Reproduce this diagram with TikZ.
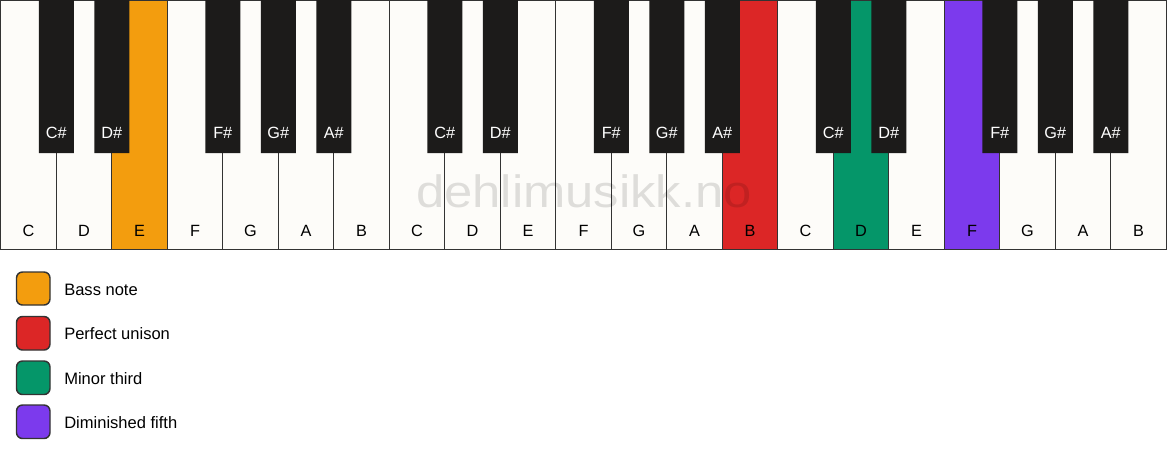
\documentclass[tikz,border=0pt]{standalone}
\usepackage{fontspec}
\setmainfont{Liberation Sans}

\definecolor{keywhite}{RGB}{253,252,249}
\definecolor{keyblack}{RGB}{28,27,26}
\definecolor{keyline}{RGB}{51,51,51}
\definecolor{bassnote}{RGB}{243,157,14}
\definecolor{unison}{RGB}{220,38,38}
\definecolor{minorthird}{RGB}{5,150,105}
\definecolor{dimfifth}{RGB}{124,58,237}

\tikzset{
	whitekey/.style={fill=keywhite, draw=keyline, line width=1.1pt},
	blackkey/.style={fill=keyblack},
	wlabel/.style={font=\fontsize{12.2}{14}\selectfont, text=black},
	blabel/.style={font=\fontsize{12.2}{14}\selectfont, text=white},
	legendbox/.style={draw=keyline, line width=1.1pt, rounded corners=4.5pt},
	legendtext/.style={anchor=west, inner sep=0pt, font=\fontsize{12.4}{14}\selectfont}
}

\begin{document}
\begin{tikzpicture}[x=0.75pt, y=-0.75pt]
\useasboundingbox (0,0) rectangle (1167,461);

% white keys
\draw[whitekey] (0.75,0) rectangle (56.25,249.5)
	(56.25,0) rectangle (111.75,249.5)
	(167.25,0) rectangle (222.75,249.5)
	(222.75,0) rectangle (278.25,249.5)
	(278.25,0) rectangle (333.75,249.5)
	(333.75,0) rectangle (389.25,249.5)
	(389.25,0) rectangle (444.75,249.5)
	(444.75,0) rectangle (500.25,249.5)
	(500.25,0) rectangle (555.75,249.5)
	(555.75,0) rectangle (611.25,249.5)
	(611.25,0) rectangle (666.75,249.5)
	(666.75,0) rectangle (722.25,249.5)
	(777.75,0) rectangle (833.25,249.5)
	(888.75,0) rectangle (944.25,249.5)
	(999.75,0) rectangle (1055.25,249.5)
	(1055.25,0) rectangle (1110.75,249.5)
	(1110.75,0) rectangle (1166.25,249.5);

% coloured keys
\draw[whitekey, fill=bassnote] (111.75,0) rectangle (167.25,249.5);
\draw[whitekey, fill=unison] (722.25,0) rectangle (777.75,249.5);
\draw[whitekey, fill=minorthird] (833.25,0) rectangle (888.75,249.5);
\draw[whitekey, fill=dimfifth] (944.25,0) rectangle (999.75,249.5);

% watermark
\node[font=\fontsize{34}{40}\selectfont, text=black, opacity=0.12, xscale=1.12] (mark) at (584,191.5) {dehlimusikk.no};

% black keys
\fill[blackkey] (38.75,0) rectangle (73.75,153)
	(94.25,0) rectangle (129.25,153)
	(205.25,0) rectangle (240.25,153)
	(260.75,0) rectangle (295.75,153)
	(316.25,0) rectangle (351.25,153)
	(427.25,0) rectangle (462.25,153)
	(482.75,0) rectangle (517.75,153)
	(593.75,0) rectangle (628.75,153)
	(649.25,0) rectangle (684.25,153)
	(704.75,0) rectangle (739.75,153)
	(815.75,0) rectangle (850.75,153)
	(871.25,0) rectangle (906.25,153)
	(982.25,0) rectangle (1017.25,153)
	(1037.75,0) rectangle (1072.75,153)
	(1093.25,0) rectangle (1128.25,153);

% labels white keys
\node[wlabel] (wC1) at (28.5,230.5) {C};
\node[wlabel] (wD1) at (84,230.5) {D};
\node[wlabel] (wE1) at (139.5,230.5) {E};
\node[wlabel] (wF1) at (195,230.5) {F};
\node[wlabel] (wG1) at (250.5,230.5) {G};
\node[wlabel] (wA1) at (306,230.5) {A};
\node[wlabel] (wB1) at (361.5,230.5) {B};
\node[wlabel] (wC2) at (417,230.5) {C};
\node[wlabel] (wD2) at (472.5,230.5) {D};
\node[wlabel] (wE2) at (528,230.5) {E};
\node[wlabel] (wF2) at (583.5,230.5) {F};
\node[wlabel] (wG2) at (639,230.5) {G};
\node[wlabel] (wA2) at (694.5,230.5) {A};
\node[wlabel] (wB2) at (750,230.5) {B};
\node[wlabel] (wC3) at (805.5,230.5) {C};
\node[wlabel] (wD3) at (861,230.5) {D};
\node[wlabel] (wE3) at (916.5,230.5) {E};
\node[wlabel] (wF3) at (972,230.5) {F};
\node[wlabel] (wG3) at (1027.5,230.5) {G};
\node[wlabel] (wA3) at (1083,230.5) {A};
\node[wlabel] (wB3) at (1138.5,230.5) {B};

% labels black keys
\node[blabel] (bCs1) at (56.25,133) {C\#};
\node[blabel] (bDs1) at (111.75,133) {D\#};
\node[blabel] (bFs1) at (222.75,133) {F\#};
\node[blabel] (bGs1) at (278.25,133) {G\#};
\node[blabel] (bAs1) at (333.75,133) {A\#};
\node[blabel] (bCs2) at (444.75,133) {C\#};
\node[blabel] (bDs2) at (500.25,133) {D\#};
\node[blabel] (bFs2) at (611.25,133) {F\#};
\node[blabel] (bGs2) at (666.75,133) {G\#};
\node[blabel] (bAs2) at (722.25,133) {A\#};
\node[blabel] (bCs3) at (833.25,133) {C\#};
\node[blabel] (bDs3) at (888.75,133) {D\#};
\node[blabel] (bFs3) at (999.75,133) {F\#};
\node[blabel] (bGs3) at (1055.25,133) {G\#};
\node[blabel] (bAs3) at (1110.75,133) {A\#};

% legend
\draw[legendbox, fill=bassnote] (16.5,272) rectangle (50,305);
\draw[legendbox, fill=unison] (16.5,316.5) rectangle (50,350);
\draw[legendbox, fill=minorthird] (16.5,361) rectangle (50,394.5);
\draw[legendbox, fill=dimfifth] (16.5,405) rectangle (50,438.5);

\node[legendtext] (lbass) at (64,289.5) {Bass note};
\node[legendtext] (lunison) at (64,334) {Perfect unison};
\node[legendtext] (lthird) at (64,378.5) {Minor third};
\node[legendtext] (lfifth) at (64,423) {Diminished fifth};

\end{tikzpicture}
\end{document}
